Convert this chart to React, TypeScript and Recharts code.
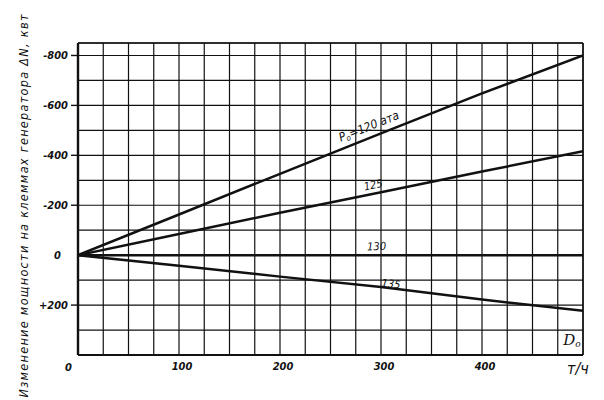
import { LineChart, Line, XAxis, YAxis, CartesianGrid, ReferenceLine, ReferenceDot, Label } from 'recharts';

// расход пара D0, т/ч
const flow = [0, 100, 200, 300, 400, 500];
// изменение мощности ΔN, квт, при разном давлении P0
const p120 = [0, -163, -326, -488, -648, -800];
const p125 = [0, -85, -170, -252, -335, -416];
const p130 = [0, 0, 0, 0, 0, 0];
const p135 = [0, 42, 86, 128, 178, 223];

const xTicks = [0, 25, 50, 75, 100, 125, 150, 175, 200, 225, 250, 275, 300, 325, 350, 375, 400, 425, 450, 475, 500];
const yTicks = [-800, -700, -600, -500, -400, -300, -200, -100, 0, 100, 200, 300, 400];
const xLabels = [0, 100, 200, 300, 400];
const yLabels = [-800, -600, -400, -200, 0, 200];

const data = flow.map((d, i) => ({ d, p120: p120[i], p125: p125[i], p130: p130[i], p135: p135[i] }));

const FONT = '"DejaVu Sans Condensed", "DejaVu Sans", sans-serif';
const INK = '#111';

function XTick({ x, y, payload }: any) {
  const v = payload.value;
  if (!xLabels.includes(v)) return null;
  if (v === 0) {
    return (
      <text x={x - 6} y={y + 16} textAnchor="end" fontFamily={FONT} fontStyle="italic" fontWeight={600} fontSize={11} fill={INK}>
        0
      </text>
    );
  }
  return (
    <text x={x + 3} y={y + 15} textAnchor="middle" fontFamily={FONT} fontStyle="italic" fontWeight={600} fontSize={11} fill={INK}>
      {v}
    </text>
  );
}

function YTick({ x, y, payload }: any) {
  const v = payload.value;
  if (!yLabels.includes(v)) return null;
  if (v === 0) {
    return (
      <text x={x - 17} y={y + 4} textAnchor="end" fontFamily={FONT} fontStyle="italic" fontWeight={600} fontSize={11} fill={INK}>
        0
      </text>
    );
  }
  const txt = v < 0 ? '-' + Math.abs(v) : '+' + v;
  return (
    <g>
      <line x1={x - 7} x2={x - 1} y1={y} y2={y} stroke={INK} strokeWidth={1.4} />
      <text x={x - 10} y={y + 4} textAnchor="end" fontFamily={FONT} fontStyle="italic" fontWeight={600} fontSize={11} fill={INK}>
        {txt}
      </text>
    </g>
  );
}

function YTitle() {
  const cx = 28;
  const cy = 206;
  return (
    <text
      x={cx}
      y={cy}
      transform={`rotate(-90 ${cx} ${cy})`}
      textAnchor="middle"
      fontFamily={FONT}
      fontStyle="italic"
      fontSize={12.5}
      fill={INK}
      textLength={383}
      lengthAdjust="spacing"
    >
      Изменение мощности на клеммах генератора ΔN, квт
    </text>
  );
}

function curveText(text: string, angle: number, lift: number, size = 11) {
  return (p: any) => (
    <text
      x={p.cx}
      y={p.cy - lift}
      transform={`rotate(${angle} ${p.cx} ${p.cy})`}
      textAnchor="middle"
      fontFamily={FONT}
      fontStyle="italic"
      fontSize={size}
      fill={INK}
    >
      {text}
    </text>
  );
}

function P0Label(p: any) {
  return (
    <text
      x={p.cx}
      y={p.cy - 7}
      transform={`rotate(-21.5 ${p.cx} ${p.cy})`}
      textAnchor="middle"
      fontFamily={FONT}
      fontStyle="italic"
      fontSize={12}
      fill={INK}
    >
      P<tspan fontSize={8} dy={2}>o</tspan>
      <tspan dy={-2}>=120 ата</tspan>
    </text>
  );
}

function D0Label(p: any) {
  return (
    <text x={p.cx} y={p.cy} textAnchor="middle" dominantBaseline="middle" fontFamily='"DejaVu Serif", serif' fontStyle="italic" fontSize={15} fill={INK}>
      D<tspan fontSize={9} dy={3}>o</tspan>
    </text>
  );
}

export default function App() {
  return (
    <div style={{ position: 'absolute', left: 0, top: 0, background: '#fff' }}>
      <LineChart width={604} height={400} data={data} margin={{ top: 43, right: 21, bottom: 15, left: 28 }}>
        <CartesianGrid stroke={INK} strokeWidth={1.2} />
        <XAxis
          dataKey="d"
          type="number"
          domain={[0, 500]}
          ticks={xTicks}
          interval={0}
          height={30}
          tickLine={false}
          tickSize={0}
          tickMargin={0}
          tick={<XTick />}
          axisLine={{ stroke: INK, strokeWidth: 2.2 }}
          allowDataOverflow
        >
          <Label value="т/ч" position="right" offset={-16} dy={-2} fontFamily={FONT} fontStyle="italic" fontSize={16} fill={INK} />
        </XAxis>
        <YAxis
          type="number"
          domain={[-850, 400]}
          reversed
          ticks={yTicks}
          interval={0}
          width={50}
          tickLine={false}
          tickSize={0}
          tickMargin={0}
          tick={<YTick />}
          axisLine={{ stroke: INK, strokeWidth: 2.4 }}
          allowDataOverflow
        >
          <Label content={<YTitle />} />
        </YAxis>
        <ReferenceLine y={-850} stroke={INK} strokeWidth={1.5} />
        <ReferenceLine x={500} stroke={INK} strokeWidth={1.5} />
        <Line dataKey="p120" stroke={INK} strokeWidth={2.5} dot={false} isAnimationActive={false} />
        <Line dataKey="p125" stroke={INK} strokeWidth={2.5} dot={false} isAnimationActive={false} />
        <Line dataKey="p130" stroke={INK} strokeWidth={2.5} dot={false} isAnimationActive={false} />
        <Line dataKey="p135" stroke={INK} strokeWidth={2.5} dot={false} isAnimationActive={false} />
        <ReferenceDot x={292} y={-475} r={1} shape={P0Label} />
        <ReferenceDot x={294} y={-247} r={1} shape={curveText('125', -11.5, 5)} />
        <ReferenceDot x={296} y={0} r={1} shape={curveText('130', -2, 5)} />
        <ReferenceDot x={310} y={114} r={1} shape={curveText('135', 6, -4)} />
        <ReferenceDot x={489} y={344} r={1} shape={D0Label} />
      </LineChart>
    </div>
  );
}
